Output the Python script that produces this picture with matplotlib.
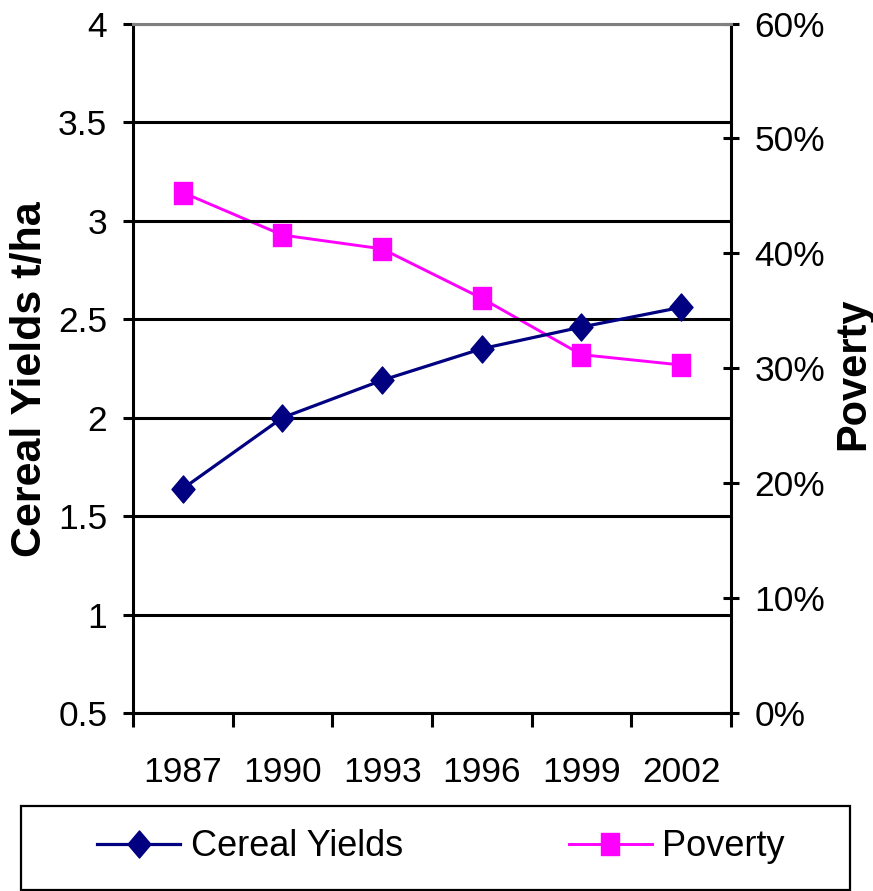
import matplotlib
matplotlib.use("Agg")
import matplotlib.pyplot as plt
from matplotlib.path import Path
from matplotlib.patches import Rectangle
from matplotlib.ticker import FixedLocator, PercentFormatter

years = ["1987", "1990", "1993", "1996", "1999", "2002"]
cereal_yields = [1.64, 2.00, 2.19, 2.35, 2.46, 2.56]   # t/ha
poverty = [45.3, 41.6, 40.4, 36.1, 31.2, 30.3]         # percent

NAVY = "#000080"
MAGENTA = "#FF00FF"
TICK_FS = 25.5

plt.rcParams["font.family"] = ["Liberation Sans"]

# slightly tall markers
diamond = Path([(0, 1), (0.85, 0), (0, -1), (-0.85, 0), (0, 1)],
               [Path.MOVETO, Path.LINETO, Path.LINETO, Path.LINETO, Path.CLOSEPOLY])
square = Path([(-0.82, -1), (0.82, -1), (0.82, 1), (-0.82, 1), (-0.82, -1)],
              [Path.MOVETO, Path.LINETO, Path.LINETO, Path.LINETO, Path.CLOSEPOLY])

fig = plt.figure(figsize=(8.73, 8.91), dpi=100)
ax = fig.add_axes([0.1523, 0.1994, 0.685, 0.7742])
ax2 = ax.twinx()

x = list(range(len(years)))

# cereal yields on the left axis
ax.plot(x, cereal_yields, color=NAVY, lw=2.3, marker=diamond, ms=19.5,
        mec=NAVY, mfc=NAVY, label="Cereal Yields", zorder=5)
ax.set_ylim(0.5, 4)
ax.set_yticks([0.5, 1, 1.5, 2, 2.5, 3, 3.5, 4])
ax.set_yticklabels(["0.5", "1", "1.5", "2", "2.5", "3", "3.5", "4"])
ax.grid(axis="y", color="black", lw=2.2)
ax.set_axisbelow(True)

# poverty share on the right axis
ax2.plot(x, [p / 100 for p in poverty], color=MAGENTA, lw=2.1, marker=square,
         ms=15.6, mec=MAGENTA, mfc=MAGENTA, label="Poverty", zorder=4)
ax2.set_ylim(0, 0.6)
ax2.set_yticks([0, 0.1, 0.2, 0.3, 0.4, 0.5, 0.6])
ax2.yaxis.set_major_formatter(PercentFormatter(1.0, decimals=0))

ax.set_zorder(ax2.get_zorder() + 1)
ax.patch.set_visible(False)

# category axis: labels centred, ticks between categories
ax.set_xlim(-0.5, len(years) - 0.5)
ax.set_xticks(x)
ax.set_xticklabels(years)
ax.xaxis.set_minor_locator(FixedLocator([i - 0.5 for i in range(len(years) + 1)]))
ax.tick_params(axis="x", which="major", length=0, pad=31, labelsize=TICK_FS)
ax.tick_params(axis="x", which="minor", length=10, width=2.2, direction="out")
ax.tick_params(axis="y", length=7.5, width=2.2, direction="out", pad=11,
               labelsize=TICK_FS)
ax2.tick_params(axis="y", length=12, width=2.2, direction="inout", pad=11,
                labelsize=TICK_FS)

for name in ["left", "bottom"]:
    ax.spines[name].set_linewidth(2.2)
ax.spines["top"].set_color("#808080")
ax.spines["top"].set_linewidth(2.2)
ax.spines["right"].set_visible(False)
ax2.spines["right"].set_linewidth(2.2)
for name in ["left", "bottom", "top"]:
    ax2.spines[name].set_visible(False)

ax.set_ylabel("Cereal Yields t/ha", fontsize=31, fontweight="bold")
ax.yaxis.label.set(rotation_mode="default", va="center", ha="center")
ax.yaxis.set_label_coords(-0.172, 0.485)
ax2.set_ylabel("Poverty", fontsize=30, fontweight="bold")
ax2.yaxis.label.set(rotation=90, rotation_mode="default", va="center", ha="center")
ax2.yaxis.set_label_coords(1.204, 0.493)

# legend strip below the chart
h1, l1 = ax.get_legend_handles_labels()
h2, l2 = ax2.get_legend_handles_labels()
fig.legend(h1 + h2, l1 + l2, loc="center", ncol=2, frameon=False,
           bbox_to_anchor=(441 / 873, 1 - 847 / 891), fontsize=26,
           handlelength=2.3, handletextpad=0.28, columnspacing=4.6)
fig.patches.append(Rectangle((21 / 873, 1 / 891), 829 / 873, 84 / 891,
                             transform=fig.transFigure, fill=False,
                             ec="black", lw=1.6))

fig.savefig("out.png", dpi=100)
